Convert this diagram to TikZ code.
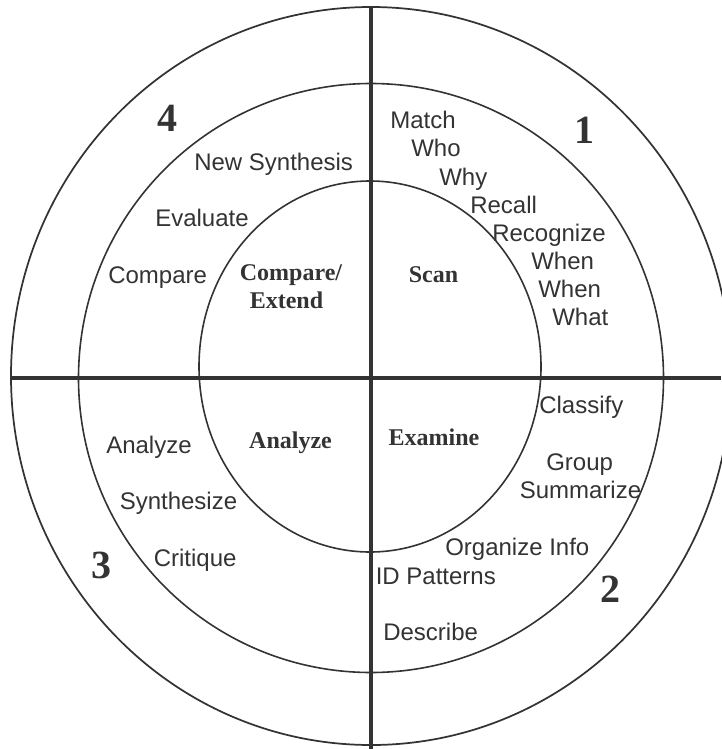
\documentclass[tikz,border=0pt]{standalone}
\usepackage{fontspec}
\setmainfont{Liberation Serif}
\setsansfont{Liberation Sans}
\usepackage{tikz}
\definecolor{ink}{gray}{0.2}

\begin{document}
\begin{tikzpicture}[x=0.75pt,y=-0.75pt,
	word/.style={font=\sffamily\fontsize{18}{20}\selectfont,text=ink,inner sep=0pt,anchor=base west},
	stage/.style={font=\bfseries\fontsize{18}{20}\selectfont,text=ink,inner sep=0pt,anchor=base},
	quad/.style={font=\bfseries\fontsize{30}{32}\selectfont,text=ink,inner sep=0pt,anchor=base}]

	\useasboundingbox (0,0) rectangle (721,749);

	\draw[ink,line width=1.3pt] (371,376) ellipse [x radius=360, y radius=369]; %outer ring
	\draw[ink,line width=1.2pt] (371,378) ellipse [x radius=292.5, y radius=294.5]; %middle ring
	\draw[ink,line width=1.2pt] (370,366.5) ellipse [x radius=171, y radius=185.5]; %inner ring
	\draw[ink,line width=2.6pt] (371,7) -- (371,749); %vertical axis
	\draw[ink,line width=2.6pt] (11,378) -- (721,378); %horizontal axis

	% quadrant numbers
	\node[quad] (q1) at (584,143){1};
	\node[quad] (q2) at (610,602){2};
	\node[quad] (q3) at (101,578){3};
	\node[quad] (q4) at (167,131){4};

	% inner stages
	\node[stage] (scan) at (433.5,282){Scan};
	\node[stage] (cmp) at (291,280){Compare/};
	\node[stage] (ext) at (286.5,308){Extend};
	\node[stage] (ana) at (290.5,448){Analyze};
	\node[stage] (exa) at (434,445){Examine};

	% quadrant 1
	\node[word] (match) at (390,128){Match};
	\node[word] (who) at (411,156.7){Who};
	\node[word] (why) at (439,185){Why};
	\node[word] (recall) at (470,213){Recall};
	\node[word] (recog) at (492,241){Recognize};
	\node[word] (when) at (531,269){When};
	\node[word] (whenb) at (538,297.7){When};
	\node[word] (what) at (552,325.4){What};

	% quadrant 2
	\node[word] (class) at (539,413){Classify};
	\node[word] (group) at (546,470){Group};
	\node[word] (summ) at (519.5,498){Summarize};
	\node[word] (org) at (445,555.6){Organize Info};
	\node[word] (idpat) at (375.5,584){ID Patterns};
	\node[word] (desc) at (383,640.7){Describe};

	% quadrant 3
	\node[word] (analyze) at (106,453){Analyze};
	\node[word] (synth) at (119.5,509){Synthesize};
	\node[word] (crit) at (153.5,566.7){Critique};

	% quadrant 4
	\node[word] (newsyn) at (194,170){New Synthesis};
	\node[word] (eval) at (155,226.5){Evaluate};
	\node[word] (compare) at (108,283.3){Compare};

\end{tikzpicture}
\end{document}
